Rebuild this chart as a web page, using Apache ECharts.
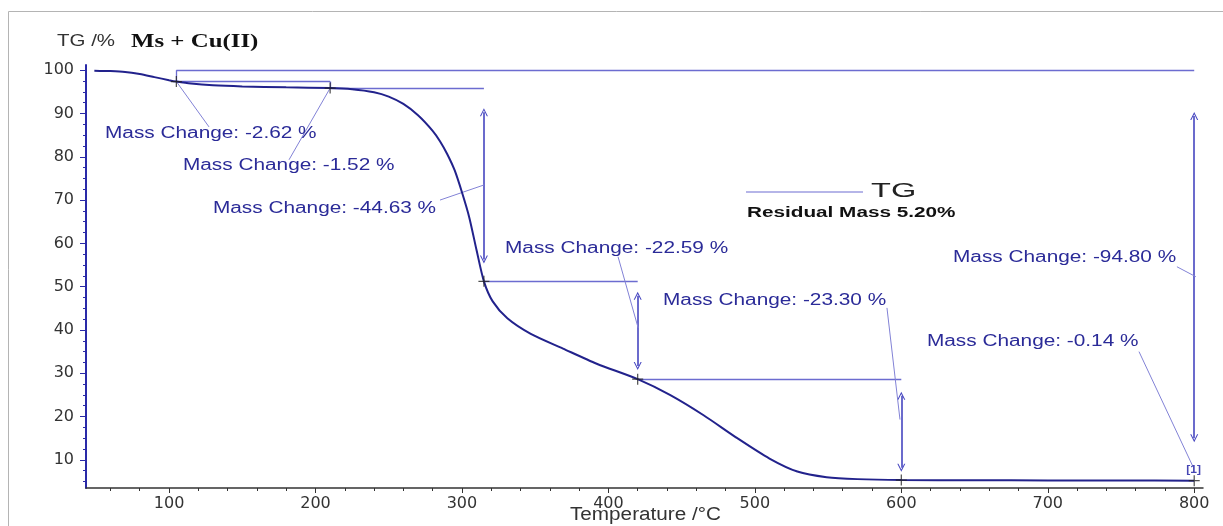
<!DOCTYPE html>
<html>
<head>
<meta charset="utf-8">
<script src="https://cdn.jsdelivr.net/npm/echarts@6/dist/echarts.min.js"></script>
<style>
  html, body { margin: 0; background: #fff; }
  #main { width: 1223px; height: 526px; }
</style>
</head>
<body>
<div id="main"></div>
<script>
// TG curve (temperature °C -> residual mass %)
const tempC = [49, 60, 70, 80, 90, 100, 105, 115, 130, 150, 180, 210, 225, 240, 250, 260, 270, 280, 285, 290, 295, 300, 305, 310, 315, 321, 331, 347, 369, 392, 420, 442, 465, 488, 510, 529, 549, 570, 600, 650, 700, 750, 800]
const tgPct = [99.9, 99.8, 99.6, 99.1, 98.4, 97.7, 97.38, 96.9, 96.5, 96.25, 96.05, 95.86, 95.6, 94.9, 93.9, 92.2, 89.6, 86.0, 83.6, 80.6, 76.9, 71.8, 66.0, 58.4, 51.23, 46.6, 42.7, 39.1, 35.7, 32.2, 28.64, 25.0, 20.3, 15.0, 10.3, 7.3, 6.0, 5.55, 5.34, 5.30, 5.26, 5.23, 5.20]

// evaluation points and their mass change labels
const stepT = [105, 210, 315, 420, 600, 800]
const stepMass = [97.38, 95.86, 51.23, 28.64, 5.34, 5.20]
const changeText = [
  'Mass Change: -2.62 %', 'Mass Change: -1.52 %', 'Mass Change: -44.63 %',
  'Mass Change: -22.59 %', 'Mass Change: -23.30 %', 'Mass Change: -0.14 %', 'Mass Change: -94.80 %'
]

const xTicks = [100, 200, 300, 400, 500, 600, 700, 800]
const yTicks = [10, 20, 30, 40, 50, 60, 70, 80, 90, 100]
const xMinor = []
for (let v = 60; v <= 800; v += 20) if (v % 100) xMinor.push(v)
const yMinor = []
for (let v = 5; v <= 100; v += 2.5) if (v % 10) yMinor.push(v)

// annotation geometry in data units
const refLines = [
  [[105, 100], [800, 100]],
  [[105, 100], [105, 97.38]],
  [[105, 97.38], [210, 97.38]],
  [[210, 97.38], [210, 95.86]],
  [[210, 95.86], [315, 95.86]],
  [[315, 51.23], [420, 51.23]],
  [[420, 28.64], [600, 28.64]]
]
const arrows = [[315, 90.3, 56.3], [420, 47.9, 31.7], [600, 24.8, 8.2], [800, 89.4, 15.0]]
const leaders = [
  [[127.3, 86.9], [105, 97.38]],
  [[181.9, 79.3], [210, 95.86]],
  [[285.0, 70.0], [315.1, 73.5]],
  [[406.6, 56.9], [420.3, 40.5]],
  [[590.2, 45.1], [599.1, 19.3]],
  [[762.3, 35.0], [799.2, 8.4]],
  [[788.2, 54.6], [801.1, 52.3]]
]
const labelAt = [[56.3, 85.3], [109.5, 77.9], [130.0, 68.0], [329.4, 58.7], [437.3, 46.9], [617.5, 37.3], [635.3, 56.7]]

const X_MIN = 43.3, X_MAX = 806, Y_MIN = 3.5, Y_MAX = 101.2
const gridBox = { left: 86, right: 20, top: 65, bottom: 38 }
const chevron = 'path://M0,9L5,0L10,9L8.6,9L5,2.4L1.4,9Z'
const plus = 'path://M4.45,0H5.55V4.45H10V5.55H5.55V10H4.45V5.55H0V4.45H4.45Z'

const seg = pairs => pairs.map(p => [{ coord: p[0] }, { coord: p[1] }])

const chart = echarts.init(document.getElementById('main'))
chart.setOption({
  animation: false,
  grid: [gridBox, gridBox],
  xAxis: [
    {
      type: 'value', gridIndex: 0, min: X_MIN, max: X_MAX,
      axisLine: { lineStyle: { color: '#333', width: 1.5 } },
      axisTick: { length: 5, customValues: xTicks, lineStyle: { color: '#333' } },
      axisLabel: { customValues: xTicks, margin: 8, color: '#333', fontFamily: 'DejaVu Sans', fontSize: 16 },
      splitLine: { show: false }
    },
    {
      type: 'value', gridIndex: 1, min: X_MIN, max: X_MAX,
      axisLine: { show: false },
      axisTick: { length: 3, customValues: xMinor, lineStyle: { color: '#333' } },
      axisLabel: { show: false }, splitLine: { show: false }
    }
  ],
  yAxis: [
    {
      type: 'value', gridIndex: 0, min: Y_MIN, max: Y_MAX,
      axisLine: { show: true, lineStyle: { color: '#2a2aa8', width: 2 } },
      axisTick: { length: 6, customValues: yTicks, lineStyle: { color: '#2a2aa8' } },
      axisLabel: { customValues: yTicks, margin: 12, color: '#333', fontFamily: 'DejaVu Sans', fontSize: 16 },
      splitLine: { show: false }
    },
    {
      type: 'value', gridIndex: 1, min: Y_MIN, max: Y_MAX,
      axisLine: { show: false },
      axisTick: { length: 3, customValues: yMinor, lineStyle: { color: '#2a2aa8' } },
      axisLabel: { show: false }, splitLine: { show: false }
    }
  ],
  series: [
    {
      name: 'refs', type: 'line', data: [], silent: true,
      markLine: {
        silent: true, animation: false, symbol: 'none', label: { show: false },
        lineStyle: { type: 'solid', color: '#6c6cd0', width: 1.3 },
        emphasis: { disabled: true },
        data: seg(refLines)
      }
    },
    {
      name: 'arrows', type: 'line', data: [], silent: true,
      markLine: {
        silent: true, animation: false, symbol: [chevron, chevron], symbolSize: 8, label: { show: false },
        lineStyle: { type: 'solid', color: '#4646c0', width: 1.6 },
        itemStyle: { color: '#4646c0' },
        emphasis: { disabled: true },
        data: arrows.map(a => [{ coord: [a[0], a[1]] }, { coord: [a[0], a[2]] }])
      }
    },
    {
      name: 'leaders', type: 'line', data: [], silent: true,
      markLine: {
        silent: true, animation: false, symbol: 'none', label: { show: false },
        lineStyle: { type: 'solid', color: '#8282d6', width: 1 },
        emphasis: { disabled: true },
        data: seg(leaders)
      }
    },
    {
      name: 'TG', type: 'line', z: 5,
      data: tempC.map((t, i) => [t, tgPct[i]]),
      showSymbol: false, smooth: 0.25,
      lineStyle: { color: '#22228c', width: 2 }
    },
    {
      name: 'points', type: 'scatter', z: 6, silent: true,
      data: stepT.map((t, i) => [t, stepMass[i]]),
      symbol: plus, symbolSize: 11,
      itemStyle: { color: '#222' }
    }
  ]
})

// texts (the reference typeface is stretched horizontally, hence scaleX)
const toPx = p => chart.convertToPixel({ gridIndex: 0 }, p)
const txt = (x, y, text, font, fill, scaleX, extra) => ({
  type: 'text', x, y, scaleX, silent: true, z: 10,
  style: Object.assign({ text, font, fill, verticalAlign: 'middle' }, extra || {})
})

const elements = [
  { type: 'rect', silent: true, z: -1, shape: { x: 8.5, y: 11.5, width: 1240, height: 540 }, style: { fill: 'none', stroke: '#b4b4b4', lineWidth: 1 } },
  txt(57, 42, 'TG /%', '16px "Liberation Sans"', '#333', 1.28),
  txt(131, 42, 'Ms + Cu(II)', 'bold 18px "Liberation Serif"', '#111', 1.38),
  { type: 'line', silent: true, shape: { x1: 746, y1: 192, x2: 863, y2: 192 }, style: { stroke: '#9c9ce0', lineWidth: 1.5 } },
  txt(871, 191, 'TG', '21px "Liberation Sans"', '#222', 1.55),
  txt(747, 213, 'Residual Mass 5.20%', 'bold 14px "Liberation Sans"', '#111', 1.48),
  txt(570, 515, 'Temperature /°C', '18px "Liberation Sans"', '#333', 1.15)
]
labelAt.forEach((p, i) => {
  const [x, y] = toPx(p)
  elements.push(txt(x, y, changeText[i], '16px "Liberation Sans"', '#2b2b98', 1.3))
})
const tagPos = toPx([800, 7.7])
elements.push(txt(tagPos[0] - 8, tagPos[1], '[1]', 'bold 10px "Liberation Sans"', '#4646b4', 1.2))

chart.setOption({ graphic: { elements } })
</script>
</body>
</html>
